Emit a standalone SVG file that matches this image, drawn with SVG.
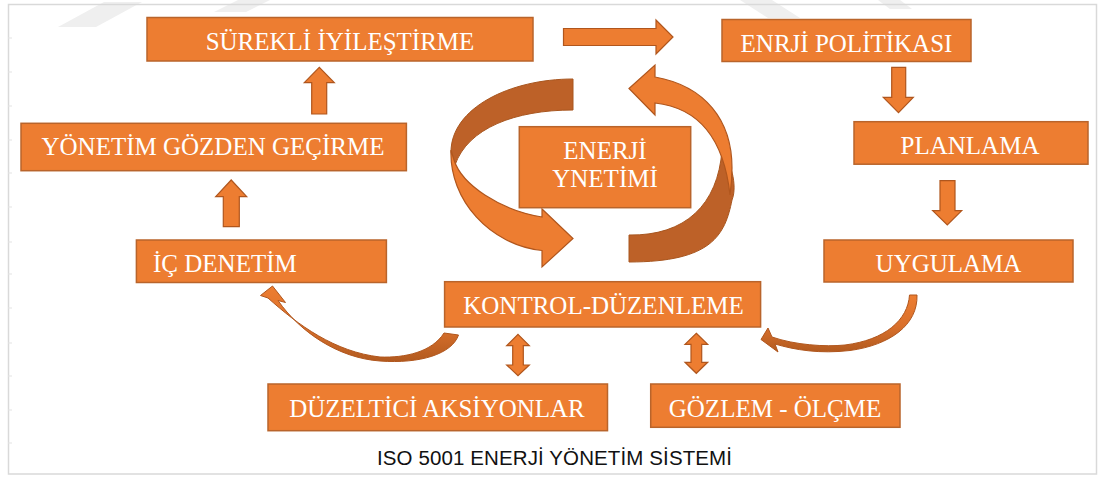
<svg xmlns="http://www.w3.org/2000/svg" width="1101" height="477" viewBox="0 0 1101 477">
<style>
.box{fill:#ED7D31;stroke:#B9642B;stroke-width:1.5}
.lbl{font-family:"Liberation Serif","Times New Roman",serif;font-size:25px;fill:#FFFFFF;text-anchor:middle}
.arr{fill:#ED7D31;stroke:#B0561D;stroke-width:1.2;stroke-linejoin:miter}
.dark{fill:#BD6128;stroke:#A8561F;stroke-width:1}
.wm{fill:#EFEFEF}
.cap{font-family:"Liberation Sans",Arial,sans-serif;font-size:20.5px;fill:#111111}
</style>
<defs>
<linearGradient id="curveGrad" x1="0" y1="0" x2="0" y2="1">
<stop offset="0" stop-color="#ED7D31"/>
<stop offset="0.55" stop-color="#D9702C"/>
<stop offset="1" stop-color="#B25A1F"/>
</linearGradient>
</defs>
<rect x="0" y="0" width="1101" height="477" fill="#FFFFFF"/>
<g id="watermark">
<polygon class="wm" points="58,27 96,27 142,2 104,2"/>
<polygon class="wm" points="214,12 246,12 270,0 238,0"/>
<polygon class="wm" points="740,0 772,0 800,18 768,18"/>
<polygon class="wm" points="878,0 900,0 912,9 890,9"/>
</g>
<g id="frame">
<rect x="8.5" y="4.5" width="1088" height="469.5" fill="none" stroke="#D9D9D9" stroke-width="1.5"/>
<path d="M8,38h4M8,72h4M8,106h4M8,140h4M8,173h4M8,207h4M8,242h4M8,274h4M8,308h4M8,343h4M8,376h4M8,410h4M8,443h4" stroke="#E3E3E3" stroke-width="1"/>
</g>
<g id="connectors">
<path class="arr" d="M563.5,28.5H656V20L673,37L656,54V45.5H563.5Z"/>
<path class="arr" d="M311.7,114V82.7H304.3L319.3,67.3L334.3,82.7H326.7V114Z"/>
<path class="arr" d="M223.3,226.7V196.7H215.7L231.2,180L246.7,196.7H239.3V226.7Z"/>
<path class="arr" d="M891.7,67.3H905.7V97.3H913.3L898.5,112.7L883.3,97.3H891.7Z"/>
<path class="arr" d="M940,180.7H955V210.7H961.7L947.3,225L932.7,210.7H940Z"/>
<path class="arr" d="M518,334.3L529.3,345.7H523.3V365H529.3L518,375.7L506.7,365H512.7V345.7H506.7Z"/>
<path class="arr" d="M696.3,333.3L707.7,344.3H701.7V362.3H707.7L696.3,373.3L685,362.3H691V344.3H685Z"/>
<path d="M444,333C432,352 405,358 380,357C335,352 298,325 268,298L260.5,295.5L272.5,286L285.5,302.5L278,300.5C300,332 338,358 380,361C420,364 452,354 458.5,335Z" fill="url(#curveGrad)" stroke="#B0561D" stroke-width="1"/>
<path d="M909.5,295L917,295C918,325 890,345 850,350.5C820,354 795,350 775,344L778,352L761,339.5L768,328L772,337C795,345 825,347 845,345C885,340 908,320 909.5,295Z" fill="url(#curveGrad)" stroke="#B0561D" stroke-width="1"/>
<path class="dark" d="M573,79C510,79 451,108 451,152L455,165C468,128 515,110 573,110Z"/>
<path class="arr" d="M451,150C449,200 490,245 542,250.5L542,267L573,238.5L542,209L542,217C500,210 462,185 454,160Z"/>
<path class="dark" d="M629,235C685,236 718,205 722,150C730,160 738,185 732,200C725,235 712,262 629,262Z"/>
<path class="arr" d="M629,88.5L655,65V77C705,86 732,120 732,168C732,180 731,188 730,195C724,140 700,108 655,103V115Z"/>
</g>
<g id="n-surekli">
<rect class="box" x="147" y="17.5" width="386" height="43.5"/>
<text class="lbl" x="340" y="50">SÜREKLİ İYİLEŞTİRME</text>
</g>
<g id="n-politika">
<rect class="box" x="722" y="19.5" width="249" height="42"/>
<text class="lbl" x="846.5" y="52">ENRJİ POLİTİKASI</text>
</g>
<g id="n-planlama">
<rect class="box" x="854" y="121.7" width="234" height="42.5"/>
<text class="lbl" x="970" y="154">PLANLAMA</text>
</g>
<g id="n-uygulama">
<rect class="box" x="824" y="240" width="249" height="42"/>
<text class="lbl" x="948.5" y="272">UYGULAMA</text>
</g>
<g id="n-yonetim">
<rect class="box" x="21" y="123.3" width="385.4" height="47.4"/>
<text class="lbl" x="213" y="155">YÖNETİM GÖZDEN GEÇİRME</text>
</g>
<g id="n-icdenetim">
<rect class="box" x="136.4" y="240" width="250" height="42.5"/>
<text class="lbl" x="153" y="272" style="text-anchor:start">İÇ DENETİM</text>
</g>
<g id="n-kontrol">
<rect class="box" x="444.6" y="281.7" width="316" height="45.3"/>
<text class="lbl" x="603.5" y="313.5">KONTROL-DÜZENLEME</text>
</g>
<g id="n-duzeltici">
<rect class="box" x="268" y="384" width="339.5" height="46.7"/>
<text class="lbl" x="437" y="417">DÜZELTİCİ AKSİYONLAR</text>
</g>
<g id="n-gozlem">
<rect class="box" x="650.7" y="384" width="249.3" height="43.3"/>
<text class="lbl" x="775" y="417">GÖZLEM - ÖLÇME</text>
</g>
<g id="n-enerji">
<rect class="box" x="519.3" y="126.7" width="171.4" height="81"/>
<text class="lbl" x="605" y="159.3">ENERJİ</text>
<text class="lbl" x="605" y="186.7">YNETİMİ</text>
</g>
<g id="caption">
<text class="cap" x="377" y="465" textLength="355" lengthAdjust="spacing">ISO 5001 ENERJİ YÖNETİM SİSTEMİ</text>
</g>
</svg>
